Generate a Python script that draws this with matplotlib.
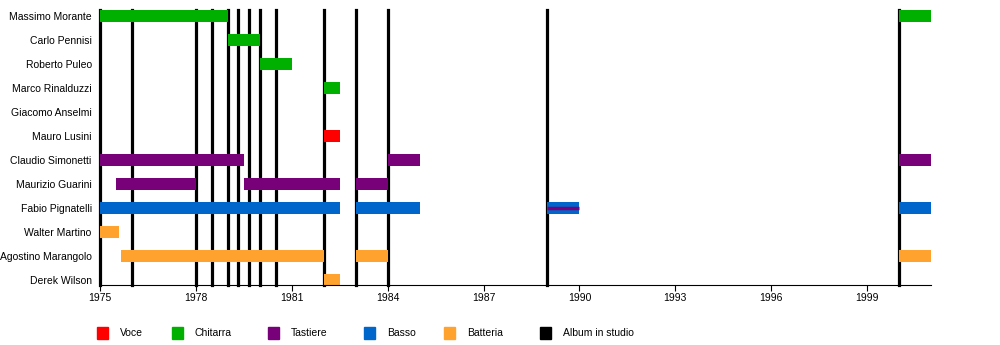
import matplotlib.pyplot as plt
from matplotlib.patches import Rectangle

plt.rcParams['font.family'] = ['Liberation Sans', 'DejaVu Sans']

members = ["Massimo Morante", "Carlo Pennisi", "Roberto Puleo", "Marco Rinalduzzi",
           "Giacomo Anselmi", "Mauro Lusini", "Claudio Simonetti", "Maurizio Guarini",
           "Fabio Pignatelli", "Walter Martino", "Agostino Marangolo", "Derek Wilson"]

roles = ["Voce", "Chitarra", "Tastiere", "Basso", "Batteria", "Album in studio"]
role_colors = ["#ff0000", "#00b000", "#780078", "#0066cc", "#ffa32e", "#000000"]

# (member, role, start, end)
periods = [
    ("Massimo Morante", "Chitarra", 1975.0, 1979.0),
    ("Massimo Morante", "Chitarra", 2000.0, 2001.0),
    ("Carlo Pennisi", "Chitarra", 1979.0, 1980.0),
    ("Roberto Puleo", "Chitarra", 1980.0, 1981.0),
    ("Marco Rinalduzzi", "Chitarra", 1982.0, 1982.5),
    ("Mauro Lusini", "Voce", 1982.0, 1982.5),
    ("Claudio Simonetti", "Tastiere", 1975.0, 1979.5),
    ("Claudio Simonetti", "Tastiere", 1984.0, 1985.0),
    ("Claudio Simonetti", "Tastiere", 2000.0, 2001.0),
    ("Maurizio Guarini", "Tastiere", 1975.5, 1978.0),
    ("Maurizio Guarini", "Tastiere", 1979.5, 1982.5),
    ("Maurizio Guarini", "Tastiere", 1983.0, 1984.0),
    ("Fabio Pignatelli", "Basso", 1975.0, 1982.5),
    ("Fabio Pignatelli", "Basso", 1983.0, 1985.0),
    ("Fabio Pignatelli", "Basso", 1989.0, 1990.0),
    ("Fabio Pignatelli", "Basso", 2000.0, 2001.0),
    ("Walter Martino", "Batteria", 1975.0, 1975.6),
    ("Agostino Marangolo", "Batteria", 1975.65, 1982.0),
    ("Agostino Marangolo", "Batteria", 1983.0, 1984.0),
    ("Agostino Marangolo", "Batteria", 2000.0, 2001.0),
    ("Derek Wilson", "Batteria", 1982.0, 1982.5),
]

# secondary role shown as a thin stripe inside a bar
stripes = [
    ("Fabio Pignatelli", "Tastiere", 1989.0, 1990.0),
]

albums = [1975.0, 1976.0, 1978.0, 1978.5, 1979.0, 1979.33, 1979.67, 1980.0,
          1980.5, 1982.0, 1983.0, 1984.0, 1989.0, 2000.0]

years = list(range(1975, 2000, 3))

color_of = dict(zip(roles, role_colors))
row_of = {name: i for i, name in enumerate(members)}

fig = plt.figure(figsize=(10, 3.45), dpi=100)
ax = fig.add_axes([0.1, 0.174, 0.831, 0.797])

for a in albums:
    ax.axvline(a, color="black", lw=2.3, zorder=1, clip_on=False)

for name, role, start, end in periods:
    ax.barh(row_of[name], end - start, left=start, height=0.5,
            color=color_of[role], zorder=2)

for name, role, start, end in stripes:
    ax.plot([start, end], [row_of[name], row_of[name]],
            color=color_of[role], lw=2.5, zorder=3, solid_capstyle="butt")

ax.set_xlim(1975, 2001)
ax.set_ylim(11.2, -0.25)
ax.set_yticks(range(len(members)))
ax.set_yticklabels(members, fontsize=7.5)
ax.tick_params(axis="y", length=0, pad=6)
ax.set_xticks(years)
ax.set_xticklabels([str(y) for y in years], fontsize=7.5)
ax.tick_params(axis="x", length=4, width=0.8, direction="out", pad=2)

for side in ["top", "right", "left"]:
    ax.spines[side].set_visible(False)
ax.spines["bottom"].set_linewidth(0.8)

# legend along the bottom
legend_x = [0.097, 0.172, 0.268, 0.364, 0.444, 0.540]
for x, label, col in zip(legend_x, roles, role_colors):
    fig.add_artist(Rectangle((x, 0.017), 0.011, 0.035, color=col,
                             transform=fig.transFigure))
    fig.text(x + 0.023, 0.034, label, fontsize=7.5, va="center")

fig.savefig("out.png", dpi=100)
